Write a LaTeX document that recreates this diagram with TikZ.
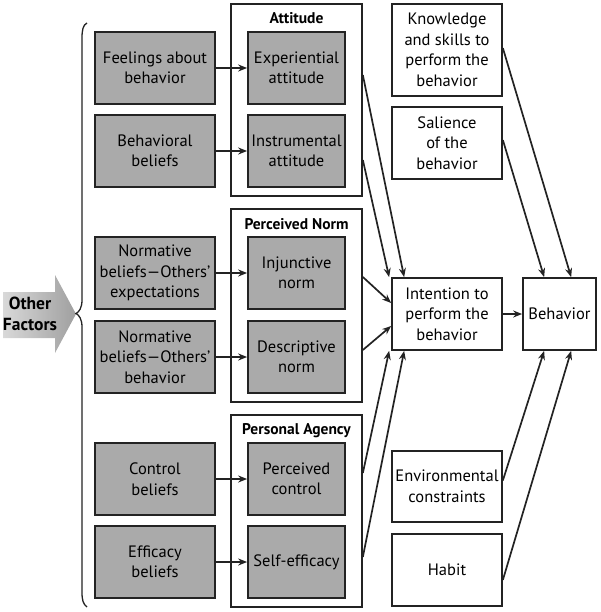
\documentclass[tikz,border=0pt]{standalone}
\usepackage{fontspec}
\setmainfont{PT Sans}
\usetikzlibrary{arrows.meta,positioning,calc}
\definecolor{boxgray}{RGB}{170,170,170}
\definecolor{linegray}{RGB}{35,35,35}

\begin{document}
\begin{tikzpicture}[x=1pt, y=-1pt, >={Stealth[length=9pt,width=7pt]},
  line width=1.7pt, draw=linegray,
  txt/.style={align=center, inner sep=0pt, font=\fontsize{16.5}{20.5}\selectfont},
  graybox/.style={txt, draw, fill=boxgray, minimum height=72pt},
  whitebox/.style={txt, draw, fill=white, minimum width=110pt},
  groupbox/.style={draw, minimum width=131pt, minimum height=192pt, inner sep=0pt},
  grouptitle/.style={inner sep=0pt, font=\bfseries\fontsize{15.5}{18}\selectfont}]

  \useasboundingbox (0,0) rectangle (600,612);

  % Define nodes

  % other factors arrow and brace
  \shade[left color=gray!30, right color=gray!75] (3,292) -- (55,292) -- (55,275) -- (76,314)
    -- (55,353) -- (55,338) -- (3,338) -- cycle;
  \node (other) at (30,314) [align=center, inner sep=0pt,
    font=\bfseries\fontsize{17.5}{21.5}\selectfont] {Other\\Factors};
  \draw[line width=1.3pt] (87,23) .. controls (83,25) and (82,30) .. (82,38) -- (82,300)
    .. controls (82,308) and (79,312) .. (76,313.5) .. controls (79,315) and (82,319) .. (82,327)
    -- (82,592) .. controls (82,600) and (83,604) .. (87,607);

  % groups
  \node (attitude) at (296.5,100) [groupbox] {};
  \node (norm) at (296.5,305.5) [groupbox, minimum height=193pt] {};
  \node (agency) at (296.5,511) [groupbox] {};
  \node (attT) at (296.5,18) [grouptitle] {Attitude};
  \node (normT) at (296.5,224) [grouptitle] {Perceived Norm};
  \node (agencyT) at (296.5,431) [grouptitle] {Personal Agency};

  % beliefs
  \node (feel) at (155,68) [graybox, minimum width=120pt] {Feelings about\\behavior};
  \node (behB) at (155,151) [graybox, minimum width=120pt] {Behavioral\\beliefs};
  \node (normE) at (155,273) [graybox, minimum width=120pt] {Normative\\beliefs—Others’\\expectations};
  \node (normB) at (155,357) [graybox, minimum width=120pt] {Normative\\beliefs—Others’\\behavior};
  \node (ctrlB) at (155,479) [graybox, minimum width=120pt] {Control\\beliefs};
  \node (effB) at (155,562) [graybox, minimum width=120pt] {Efficacy\\beliefs};

  \node (exper) at (296.5,68) [graybox, minimum width=97pt] {Experiential\\attitude};
  \node (instr) at (296.5,151) [graybox, minimum width=97pt] {Instrumental\\attitude};
  \node (injunc) at (296.5,273) [graybox, minimum width=97pt] {Injunctive\\norm};
  \node (descr) at (296.5,357) [graybox, minimum width=97pt] {Descriptive\\norm};
  \node (ctrl) at (296.5,479) [graybox, minimum width=97pt] {Perceived\\control};
  \node (eff) at (296.5,562) [graybox, minimum width=97pt] {Self-efficacy};

  % right column
  \node (know) at (447,50) [whitebox, minimum height=92pt] {Knowledge\\and skills to\\perform the\\behavior};
  \node (sal) at (447,143) [whitebox, minimum height=72pt] {Salience\\of the\\behavior};
  \node (intent) at (447,314) [whitebox, minimum height=72pt] {Intention to\\perform the\\behavior};
  \node (env) at (447,486.5) [whitebox, minimum height=71pt] {Environmental\\constraints};
  \node (habit) at (447,570) [whitebox, minimum height=72pt] {Habit};
  \node (behav) at (559.5,314) [whitebox, minimum width=73pt, minimum height=72pt] {Behavior};

  % Draw arrows
  \draw[->] (feel) -- (exper);
  \draw[->] (behB) -- (instr);
  \draw[->] (normE) -- (injunc);
  \draw[->] (normB) -- (descr);
  \draw[->] (ctrlB) -- (ctrl);
  \draw[->] (effB) -- (eff);

  \draw[->] ([yshift=-7pt]attitude.east |- exper.east) -- ([xshift=13pt]intent.north west);
  \draw[->] ([yshift=-9pt]attitude.east |- instr.east) -- ([xshift=-2pt]intent.north west);
  \draw[->] ([yshift=-4pt]norm.east |- injunc.east) -- ([yshift=11pt]intent.west);
  \draw[->] ([yshift=7pt]norm.east |- descr.east) -- ([yshift=-12pt]intent.west);
  \draw[->] ([yshift=6pt]agency.east |- ctrl.east) -- ([xshift=-2pt]intent.south west);
  \draw[->] ([yshift=5pt]agency.east |- eff.east) -- ([xshift=13pt]intent.south west);

  \draw[->] ([yshift=2pt]know.east) -- ([xshift=49pt]behav.north west);
  \draw[->] ([yshift=3pt]sal.east) -- ([xshift=22pt]behav.north west);
  \draw[->] ([yshift=6pt]env.east) -- ([xshift=22pt]behav.south west);
  \draw[->] ([yshift=-10pt]habit.east) -- ([xshift=49pt]behav.south west);
  \draw[->] (intent) -- (behav);
\end{tikzpicture}
\end{document}
